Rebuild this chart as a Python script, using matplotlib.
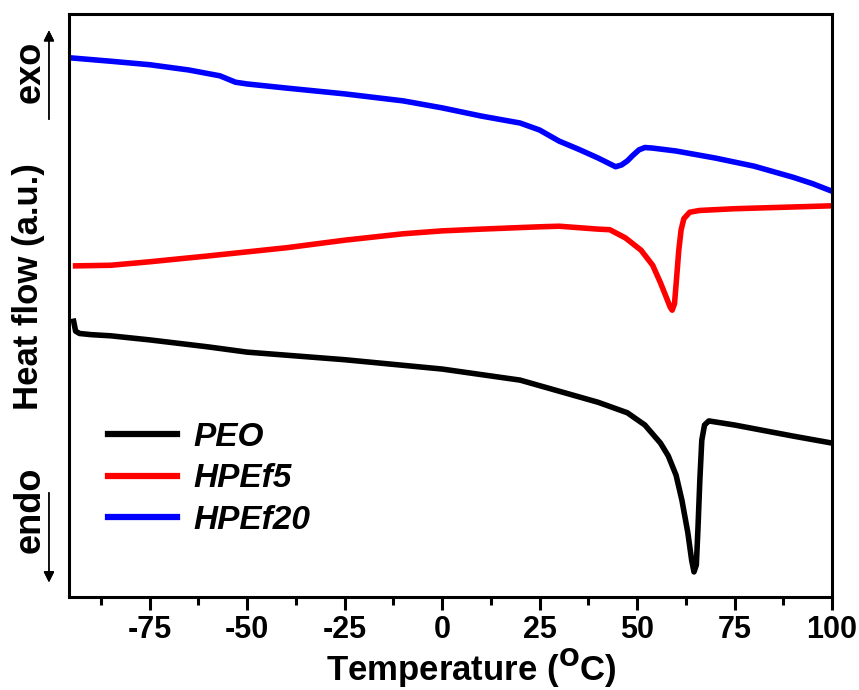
import numpy as np
import matplotlib.pyplot as plt

plt.rcParams['font.family'] = ['Liberation Sans', 'DejaVu Sans']
plt.rcParams['font.weight'] = 'bold'
plt.rcParams['axes.unicode_minus'] = False

# curvas DSC (T en grados C, flujo en u.a.)
t_peo = [-94.5, -94, -93, -90, -85, -75, -60, -50, -25, 0, 20, 30, 40, 47.5, 52, 56, 58, 60,
         61.5, 63, 64, 64.6, 65.2, 65.6, 66.1, 66.6, 67.3, 68.4, 75, 90, 100]
hf_peo = [47.3, 45.6, 45.2, 45.0, 44.8, 44.1, 42.9, 42.0, 40.7, 39.1, 37.2, 35.3, 33.4, 31.6,
          29.5, 26.4, 24.2, 20.9, 16.6, 11.1, 6.3, 4.3, 5.5, 11.5, 20.1, 26.9, 29.5, 30.2,
          29.5, 27.6, 26.4]

t_hpef5 = [-94, -85, -75, -60, -50, -40, -25, -10, 0, 10, 25, 30, 40, 43, 47, 51, 54, 56, 57.5,
           58.5, 59, 59.6, 60.1, 60.7, 61.3, 62, 63.5, 66, 75, 90, 100]
hf_hpef5 = [56.8, 56.9, 57.5, 58.5, 59.2, 59.9, 61.2, 62.3, 62.8, 63.1, 63.5, 63.6, 63.1, 63.0,
            61.6, 59.5, 56.9, 53.9, 51.4, 49.7, 49.2, 50.3, 54.4, 59.5, 63.0, 64.9, 66.0, 66.3,
            66.6, 66.9, 67.1]

t_hpef20 = [-95.7, -85, -75, -65, -57, -53, -50, -40, -25, -10, 0, 10, 20, 25, 30, 35, 40, 43,
            44.5, 46, 47.5, 49, 50.5, 52, 54, 60, 70, 80, 90, 95, 100]
hf_hpef20 = [92.5, 91.9, 91.3, 90.4, 89.4, 88.3, 88.0, 87.3, 86.3, 85.1, 83.9, 82.5, 81.3, 80.1,
             78.2, 76.8, 75.3, 74.3, 73.8, 74.1, 74.8, 75.8, 76.7, 77.1, 77.0, 76.5, 75.3, 73.9,
             72.0, 70.9, 69.6]

x_ticks = [-75, -50, -25, 0, 25, 50, 75, 100]

fig = plt.figure(figsize=(8.59, 6.9), dpi=100)
ax = fig.add_axes([0.0803, 0.1348, 0.8883, 0.8449])

ax.plot(t_peo, hf_peo, color='black', lw=4, label='PEO')
ax.plot(t_hpef5, hf_hpef5, color='red', lw=4, label='HPEf5')
ax.plot(t_hpef20, hf_hpef20, color='blue', lw=4, label='HPEf20')

ax.set_xlim(-95.7, 100)
ax.set_ylim(0, 100)
ax.set_xticks(x_ticks)
ax.set_xticks(np.arange(-87.5, 100, 25), minor=True)
ax.set_yticks([])
ax.tick_params(axis='x', which='major', direction='out', length=9, width=2.2, labelsize=22, pad=4)
ax.tick_params(axis='x', which='minor', direction='out', length=6, width=2.2)
for sp in ax.spines.values():
    sp.set_linewidth(2.2)

ax.set_xlabel('Temperature ($\\mathbf{^{O}}$C)', fontsize=25, fontweight='bold')
ax.xaxis.set_label_coords(0.527, -0.085)
ax.set_ylabel('Heat flow (a.u.)', fontsize=25, fontweight='bold')
ax.yaxis.set_label_coords(-0.032, 0.533)

leg = ax.legend(loc='lower left', bbox_to_anchor=(0.034, 0.082), frameon=False, handlelength=2.07,
                handletextpad=0.48, labelspacing=0.32, borderaxespad=0,
                prop={'size': 24, 'weight': 'bold', 'style': 'italic'})
for line in leg.get_lines():
    line.set_linewidth(4.5)

# flechas exo / endo
fig.text(0.035, 0.896, 'exo', rotation=90, fontsize=26, fontweight='bold', ha='center', va='center')
fig.text(0.035, 0.261, 'endo', rotation=90, fontsize=26, fontweight='bold', ha='center', va='center')
fig.add_artist(plt.annotate('', xy=(0.057, 0.96), xytext=(0.057, 0.823), xycoords='figure fraction',
                            arrowprops=dict(arrowstyle='-|>', color='black', lw=1, mutation_scale=16)))
fig.add_artist(plt.annotate('', xy=(0.057, 0.152), xytext=(0.057, 0.29), xycoords='figure fraction',
                            arrowprops=dict(arrowstyle='-|>', color='black', lw=1, mutation_scale=16)))

fig.savefig('out.png', dpi=100)
